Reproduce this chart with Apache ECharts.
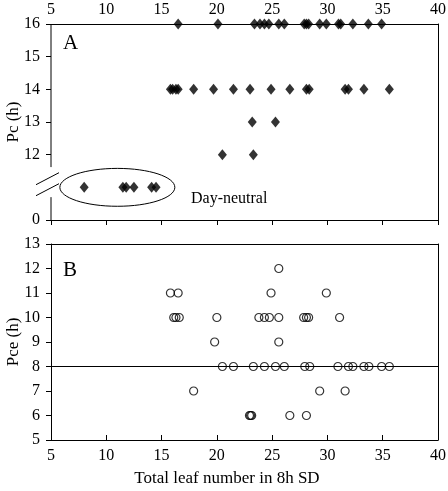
<!DOCTYPE html>
<html>
<head>
<meta charset="utf-8">
<script src="https://cdn.jsdelivr.net/npm/echarts@6/dist/echarts.min.js"></script>
<style>html,body{margin:0;padding:0;background:#fff;}#c{width:448px;height:491px;}</style>
</head>
<body>
<div id="c"></div>
<script>
// ---- Data ----
var xTicks = [5, 10, 15, 20, 25, 30, 35, 40];
var pcTicks = [10, 12, 13, 14, 15, 16];     // 10 is drawn as "0" (axis break)
var pcTickLabels = ['0', '12', '13', '14', '15', '16'];
var dayNeutralLevel = 11;                   // plotting level of day-neutral row (below break)

// Panel A: Pc (h) vs total leaf number
var a16 = [16.5, 20.1, 23.4, 23.9, 24.3, 24.7, 25.6, 26.1, 27.9, 28.1, 28.3, 29.3, 29.9, 31.0, 31.2, 32.3, 33.7, 34.9];
var a14 = [15.8, 16.0, 16.3, 16.5, 17.9, 19.7, 21.5, 23.0, 24.9, 26.6, 28.1, 28.35, 31.6, 31.9, 33.3, 35.6];
var a13 = [23.2, 25.3];
var a12 = [20.5, 23.3];
var aDayNeutral = [8.0, 11.5, 11.8, 12.5, 14.1, 14.5];

// Panel B: Pce (h) vs total leaf number
var b12 = [25.6];
var b11 = [15.8, 16.5, 24.9, 29.9];
var b10 = [16.1, 16.3, 16.6, 20.0, 23.8, 24.3, 24.75, 25.6, 27.85, 28.1, 28.3, 31.1];
var b9 = [19.8, 25.6];
var b8 = [20.5, 21.5, 23.3, 24.3, 25.3, 26.1, 27.95, 28.4, 30.95, 31.9, 32.3, 33.3, 33.75, 34.9, 35.6];
var b7 = [17.9, 29.3, 31.6];
var b6 = [22.95, 23.05, 23.15, 26.6, 28.1];
var bRefLine = 8;

// Day-neutral ellipse annotation (data units)
var ellipseCenter = [11.0, 11.0];
var ellipseHalf = [5.2, 0.58];

function pair(xs, y) { return xs.map(function (x) { return [x, y]; }); }
var seriesA = [].concat(pair(a16, 16), pair(a14, 14), pair(a13, 13), pair(a12, 12), pair(aDayNeutral, dayNeutralLevel));
var seriesB = [].concat(pair(b12, 12), pair(b11, 11), pair(b10, 10), pair(b9, 9), pair(b8, 8), pair(b7, 7), pair(b6, 6));

var FONT = '"Liberation Serif", "Times New Roman", serif';
var BLACK = '#000';

var chart = echarts.init(document.getElementById('c'), null, { renderer: 'canvas' });

var baseLine = { show: true, lineStyle: { color: BLACK, width: 1 } };
var noThing = { show: false };

var option = {
  animation: false,
  backgroundColor: '#fff',
  textStyle: { fontFamily: FONT, color: BLACK },
  grid: [
    { left: 51, right: 10, top: 24, height: 196, containLabel: false, outerBoundsMode: 'none' },
    { left: 51, right: 10, top: 244, height: 196, containLabel: false, outerBoundsMode: 'none' }
  ],
  xAxis: [
    { // 0: top of A, labels
      gridIndex: 0, type: 'value', position: 'top', min: 5, max: 40, interval: 5,
      axisLine: baseLine, axisTick: noThing, splitLine: noThing,
      axisLabel: { show: true, margin: 6, fontSize: 16, fontFamily: FONT, color: BLACK }
    },
    { // 1: bottom of A, ticks outward
      gridIndex: 0, type: 'value', position: 'bottom', min: 5, max: 40, interval: 5,
      axisLine: baseLine, axisTick: { show: true, inside: false, length: 5, lineStyle: { color: BLACK } },
      splitLine: noThing, axisLabel: noThing
    },
    { // 2: bottom of B, labels
      gridIndex: 1, type: 'value', position: 'bottom', min: 5, max: 40, interval: 5,
      axisLine: baseLine, axisTick: { show: true, inside: true, length: 5, lineStyle: { color: BLACK } },
      splitLine: noThing,
      axisLabel: { show: true, margin: 8, fontSize: 16, fontFamily: FONT, color: BLACK }
    },
    { // 3: top of B, line only
      gridIndex: 1, type: 'value', position: 'top', min: 5, max: 40, interval: 5,
      axisLine: baseLine, axisTick: noThing, splitLine: noThing, axisLabel: noThing
    }
  ],
  yAxis: [
    { // 0: left A
      gridIndex: 0, type: 'value', position: 'left', min: 10, max: 16, interval: 1,
      name: 'Pc (h)', nameLocation: 'middle', nameGap: 29, nameMoveOverlap: false,
      nameTextStyle: { fontSize: 17, fontFamily: FONT, color: BLACK },
      axisLine: { show: false },
      axisTick: { show: true, length: 5, customValues: pcTicks, lineStyle: { color: BLACK } },
      splitLine: noThing,
      axisLabel: {
        show: true, margin: 11, fontSize: 16, fontFamily: FONT, color: BLACK,
        customValues: pcTicks,
        formatter: function (v) { var i = pcTicks.indexOf(v); return i >= 0 ? pcTickLabels[i] : ''; }
      }
    },
    { // 1: right A
      gridIndex: 0, type: 'value', position: 'right', min: 10, max: 16,
      axisLine: baseLine, axisTick: noThing, splitLine: noThing, axisLabel: noThing
    },
    { // 2: left B
      gridIndex: 1, type: 'value', position: 'left', min: 5, max: 13, interval: 1,
      name: 'Pce (h)', nameLocation: 'middle', nameGap: 29, nameMoveOverlap: false,
      nameTextStyle: { fontSize: 17, fontFamily: FONT, color: BLACK },
      axisLine: baseLine,
      axisTick: { show: true, length: 5, lineStyle: { color: BLACK } },
      splitLine: noThing,
      axisLabel: { show: true, margin: 11, fontSize: 16, fontFamily: FONT, color: BLACK }
    },
    { // 3: right B
      gridIndex: 1, type: 'value', position: 'right', min: 5, max: 13,
      axisLine: baseLine, axisTick: noThing, splitLine: noThing, axisLabel: noThing
    }
  ],
  series: [
    {
      type: 'scatter', xAxisIndex: 0, yAxisIndex: 0, data: seriesA, clip: false, silent: true,
      symbol: 'diamond', symbolSize: [9, 11], itemStyle: { color: BLACK }, z: 5
    },
    {
      type: 'scatter', xAxisIndex: 2, yAxisIndex: 2, data: seriesB, clip: false, silent: true,
      symbol: 'circle', symbolSize: 8,
      itemStyle: { color: 'rgba(255,255,255,0)', borderColor: BLACK, borderWidth: 1.2 }, z: 5,
      markLine: {
        silent: true, symbol: 'none', label: { show: false },
        lineStyle: { color: BLACK, width: 1, type: 'solid' },
        data: [{ yAxis: bRefLine }]
      }
    }
  ],
  graphic: [
    { type: 'text', left: 63, top: 33, style: { text: 'A', font: '21px ' + FONT, fill: BLACK } },
    { type: 'text', left: 63, top: 260, style: { text: 'B', font: '21px ' + FONT, fill: BLACK } },
    { type: 'text', x: 191, y: 199, style: { text: 'Day-neutral', font: '16px ' + FONT, fill: BLACK, textVerticalAlign: 'middle' } },
    { type: 'text', x: 227, y: 479, style: { text: 'Total leaf number in 8h SD', font: '17px ' + FONT, fill: BLACK, textAlign: 'center', textVerticalAlign: 'middle' } }
  ]
};
chart.setOption(option);

// Axis break & ellipse annotations computed through the chart's scales
var finder = { xAxisIndex: 0, yAxisIndex: 0 };
var pTop = chart.convertToPixel(finder, [5, 16]);
var pBreakHi = chart.convertToPixel(finder, [5, 11.62]);
var pBreakLo = chart.convertToPixel(finder, [5, 10.7]);
var pBot = chart.convertToPixel(finder, [5, 10]);
var pMid = chart.convertToPixel(finder, [5, 11.05]);
var c = chart.convertToPixel(finder, ellipseCenter);
var c2 = chart.convertToPixel(finder, [ellipseCenter[0] + ellipseHalf[0], ellipseCenter[1] + ellipseHalf[1]]);
var rx = Math.abs(c2[0] - c[0]), ry = Math.abs(c[1] - c2[1]);

var extra = option.graphic.slice();
extra.push(
  { type: 'line', shape: { x1: pTop[0], y1: pTop[1], x2: pBreakHi[0], y2: pBreakHi[1] }, style: { stroke: BLACK, lineWidth: 1 } },
  { type: 'line', shape: { x1: pBreakLo[0], y1: pBreakLo[1], x2: pBot[0], y2: pBot[1] }, style: { stroke: BLACK, lineWidth: 1 } },
  { type: 'line', shape: { x1: pMid[0] - 15, y1: pMid[1] - 1, x2: pMid[0] + 8, y2: pMid[1] - 13 }, style: { stroke: BLACK, lineWidth: 1 } },
  { type: 'line', shape: { x1: pMid[0] - 15, y1: pMid[1] + 10, x2: pMid[0] + 8, y2: pMid[1] - 2 }, style: { stroke: BLACK, lineWidth: 1 } },
  { type: 'ellipse', shape: { cx: c[0], cy: c[1], rx: rx, ry: ry }, style: { fill: 'none', stroke: BLACK, lineWidth: 1 }, z: 0 }
);
chart.setOption({ graphic: extra }, { replaceMerge: ['graphic'] });
</script>
</body>
</html>
